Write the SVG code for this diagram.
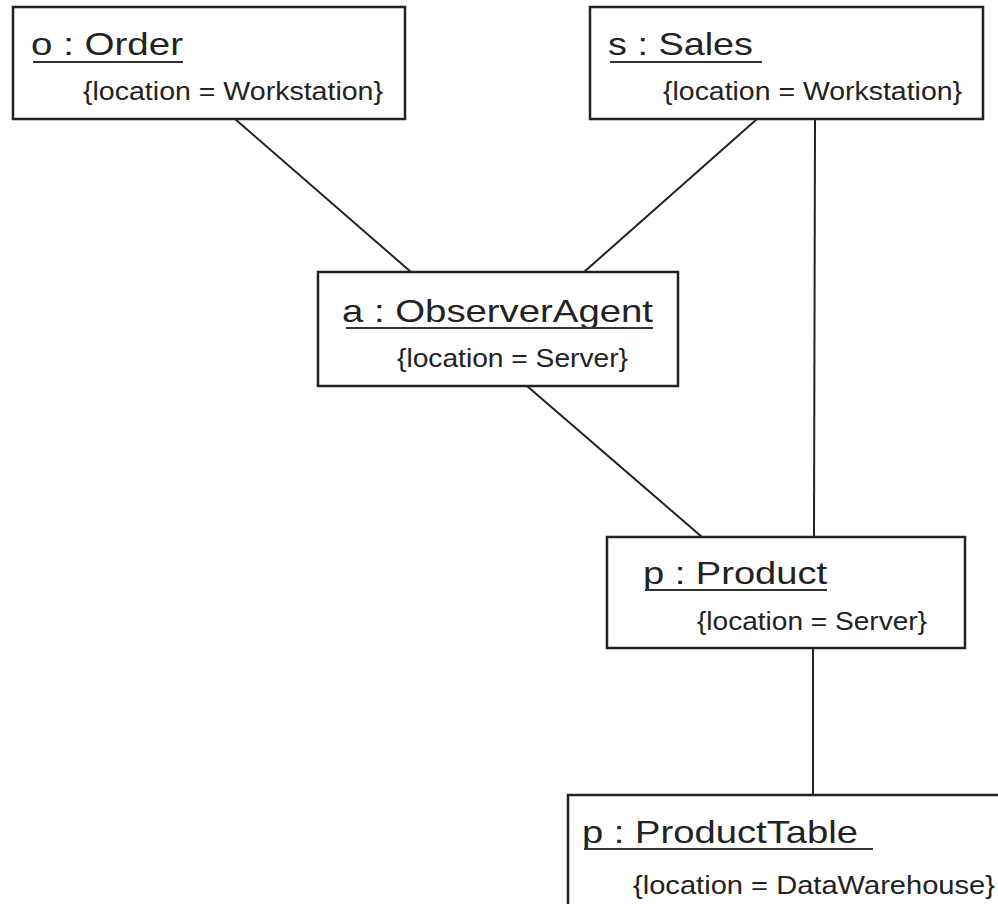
<svg xmlns="http://www.w3.org/2000/svg" width="998" height="904" viewBox="0 0 998 904">
<style>
  .box { fill: #ffffff; stroke: #222222; stroke-width: 2.5; }
  .conn { stroke: #222222; stroke-width: 2; fill: none; }
  .ul { stroke: #333333; stroke-width: 2; }
  .title { font-family: "Liberation Sans", Arial, sans-serif; font-size: 32px; fill: #222222; }
  .sub { font-family: "Liberation Sans", Arial, sans-serif; font-size: 25px; fill: #222222; }
</style>
<rect x="0" y="0" width="998" height="904" fill="#ffffff"/>
<g id="connectors">
  <line class="conn" x1="235" y1="119" x2="411" y2="272"/>
  <line class="conn" x1="757" y1="119" x2="584" y2="272"/>
  <line class="conn" x1="815" y1="119" x2="814" y2="537"/>
  <line class="conn" x1="527" y1="386" x2="702" y2="537"/>
  <line class="conn" x1="813" y1="648" x2="813" y2="795"/>
</g>
<g id="order">
  <rect class="box" x="13" y="7" width="392" height="112"/>
  <text class="title" x="31" y="55" textLength="152" lengthAdjust="spacingAndGlyphs">o : Order</text>
  <line class="ul" x1="33" y1="62" x2="183" y2="62"/>
  <text class="sub" x="83" y="100" textLength="300" lengthAdjust="spacingAndGlyphs">{location = Workstation}</text>
</g>
<g id="sales">
  <rect class="box" x="590" y="7" width="393" height="112"/>
  <text class="title" x="608" y="55" textLength="145" lengthAdjust="spacingAndGlyphs">s : Sales</text>
  <line class="ul" x1="610" y1="62" x2="762" y2="62"/>
  <text class="sub" x="663" y="100" textLength="299" lengthAdjust="spacingAndGlyphs">{location = Workstation}</text>
</g>
<g id="observerAgent">
  <rect class="box" x="318" y="272" width="360" height="114"/>
  <text class="title" x="342" y="322" textLength="311" lengthAdjust="spacingAndGlyphs">a : ObserverAgent</text>
  <line class="ul" x1="346" y1="328" x2="653" y2="328"/>
  <text class="sub" x="397" y="367" textLength="231" lengthAdjust="spacingAndGlyphs">{location = Server}</text>
</g>
<g id="product">
  <rect class="box" x="607" y="537" width="358" height="111"/>
  <text class="title" x="643" y="584" textLength="184" lengthAdjust="spacingAndGlyphs">p : Product</text>
  <line class="ul" x1="645" y1="590" x2="827" y2="590"/>
  <text class="sub" x="697" y="630" textLength="230" lengthAdjust="spacingAndGlyphs">{location = Server}</text>
</g>
<g id="productTable">
  <rect class="box" x="568" y="795" width="500" height="200"/>
  <text class="title" x="582" y="843" textLength="276" lengthAdjust="spacingAndGlyphs">p : ProductTable</text>
  <line class="ul" x1="584" y1="849" x2="873" y2="849"/>
  <text class="sub" x="633" y="894" textLength="362" lengthAdjust="spacingAndGlyphs">{location = DataWarehouse}</text>
</g>
</svg>
